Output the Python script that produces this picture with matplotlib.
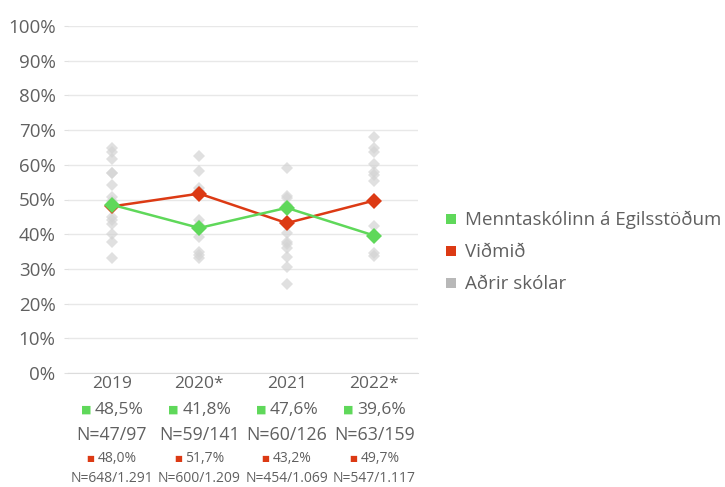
import numpy as np
import matplotlib
matplotlib.use("Agg")
import matplotlib.pyplot as plt

# Data
years = ["2019", "2020*", "2021", "2022*"]
school_pct = [48.5, 41.8, 47.6, 39.6]
school_n = ["N=47/97", "N=59/141", "N=60/126", "N=63/159"]
bench_pct = [48.0, 51.7, 43.2, 49.7]
bench_n = ["N=648/1.291", "N=600/1.209", "N=454/1.069", "N=547/1.117"]

other_2019 = [64.8, 63.8, 61.6, 57.7, 57.5, 54.3, 50.6, 49.7, 44.9, 44.1, 42.9, 40.0, 37.8, 33.0]
other_2020 = [62.5, 58.2, 53.2, 52.4, 44.1, 42.6, 39.3, 35.0, 34.0, 33.2]
other_2021 = [59.0, 51.0, 50.3, 48.4, 40.3, 37.8, 37.2, 35.9, 33.5, 30.6, 25.6]
other_2022 = [67.9, 64.8, 63.8, 60.1, 58.0, 57.1, 55.4, 42.4, 34.5, 33.7]
others = [other_2019, other_2020, other_2021, other_2022]

school_name = "Menntaskólinn á Egilsstöðum"
bench_name = "Viðmið"
other_name = "Aðrir skólar"

green = "#5fd85a"
red = "#dc3a14"
text_col = "#606060"

plt.rcParams["font.family"] = ["Open Sans", "DejaVu Sans"]

fig = plt.figure(figsize=(7.25, 4.87), dpi=100)
ax = fig.add_axes([68 / 725, 1 - 373 / 487, 350 / 725, 347 / 487])

x = np.arange(len(years))

# grey diamonds for other schools
for i, vals in enumerate(others):
    ax.plot([i] * len(vals), vals, linestyle="none", marker="D", markersize=6.5,
            color="#d4d4d4", alpha=0.7, markeredgewidth=0, zorder=2)

ax.plot(x, bench_pct, color=red, linewidth=1.8, marker="D", markersize=8,
        markeredgewidth=0, zorder=3)
ax.plot(x, school_pct, color=green, linewidth=1.8, marker="D", markersize=8,
        markeredgewidth=0, zorder=4)

ax.set_xlim(-0.5, len(years) - 0.5)
ax.set_ylim(0, 100)
ax.set_yticks(np.arange(0, 101, 10))
ax.set_yticklabels([f"{v}%" for v in range(0, 101, 10)])
ax.tick_params(axis="y", length=3, color="#e0e0e0", labelsize=13.5,
               labelcolor=text_col, pad=6)
ax.set_xticks([])
ax.grid(axis="y", color="#e8e8e8", linewidth=1)
ax.set_axisbelow(True)
for s in ["top", "right", "left"]:
    ax.spines[s].set_visible(False)
ax.spines["bottom"].set_color("#dcdcdc")

# category labels with values under the axis
xt = ("data", "axes fraction")
for i in range(len(years)):
    ax.annotate(years[i], xy=(i, 0), xycoords=xt, xytext=(0, -11),
                textcoords="offset pixels", ha="center", va="center",
                fontsize=12.5, color=text_col)
    ax.annotate("■", xy=(i, 0), xycoords=xt, xytext=(-26, -37),
                textcoords="offset pixels", ha="center", va="center",
                fontsize=8, color=green, family="DejaVu Sans")
    ax.annotate(f"{school_pct[i]:.1f}%".replace(".", ","), xy=(i, 0),
                xycoords=xt, xytext=(-17, -37), textcoords="offset pixels",
                ha="left", va="center", fontsize=12.5, color=text_col)
    ax.annotate(school_n[i], xy=(i, 0), xycoords=xt, xytext=(0, -62),
                textcoords="offset pixels", ha="center", va="center",
                fontsize=12.8, color=text_col)
    ax.annotate("■", xy=(i, 0), xycoords=xt, xytext=(-21.5, -86),
                textcoords="offset pixels", ha="center", va="center",
                fontsize=6, color=red, family="DejaVu Sans")
    ax.annotate(f"{bench_pct[i]:.1f}%".replace(".", ","), xy=(i, 0),
                xycoords=xt, xytext=(-14, -86), textcoords="offset pixels",
                ha="left", va="center", fontsize=10, color=text_col)
    ax.annotate(bench_n[i], xy=(i, 0), xycoords=xt, xytext=(0, -106),
                textcoords="offset pixels", ha="center", va="center",
                fontsize=10, color=text_col)

# legend
handles = [plt.Line2D([], [], linestyle="none", marker="s", markersize=7,
                      color=c, markeredgewidth=0) for c in [green, red, "#b8b8b8"]]
leg = fig.legend(handles, [school_name, bench_name, other_name],
                 loc="center left", bbox_to_anchor=(428 / 725, 1 - 252 / 487),
                 frameon=False, fontsize=13.5, handlelength=0.7, handletextpad=0.35,
                 labelspacing=0.75, labelcolor=text_col)

fig.savefig("out.png", dpi=100)
